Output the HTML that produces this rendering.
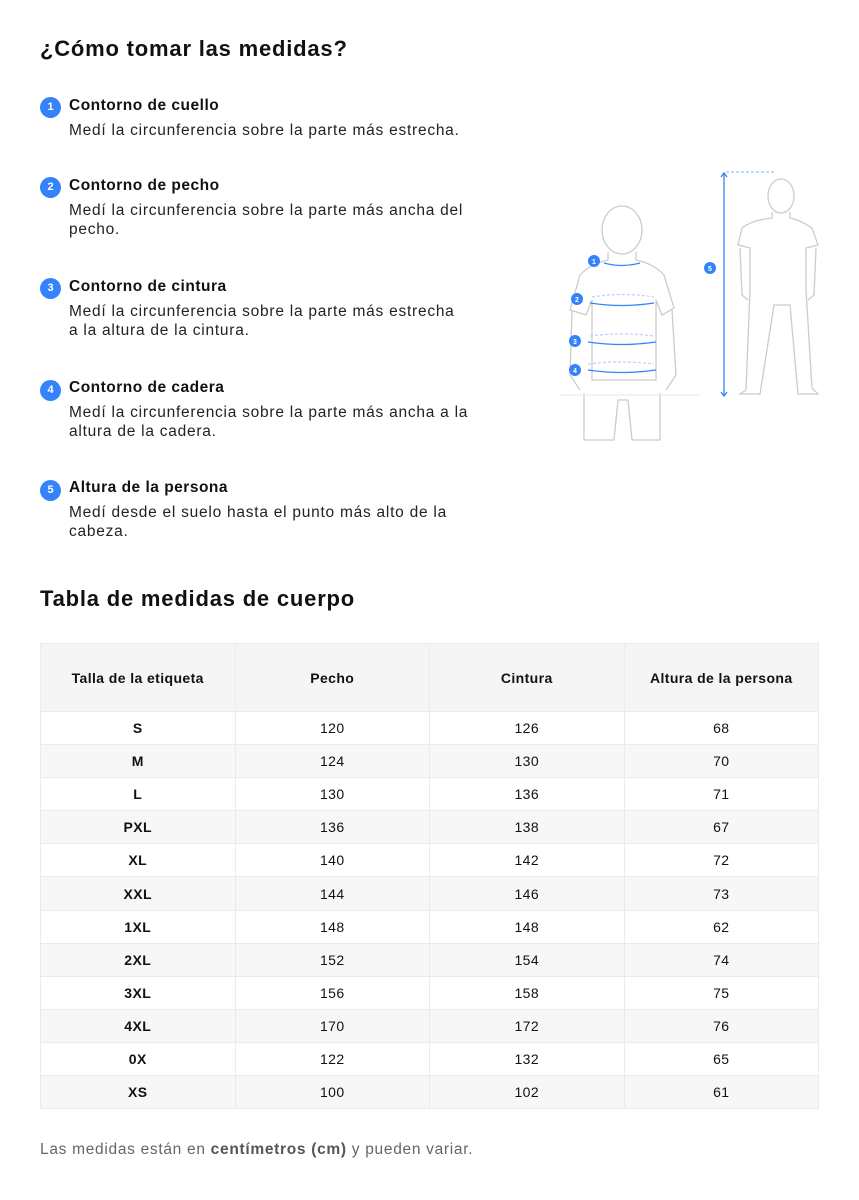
<!DOCTYPE html>
<html><head><meta charset="utf-8"><style>
*{margin:0;padding:0;box-sizing:border-box}
body{width:859px;height:1200px;background:#fff;font-family:"Liberation Sans",sans-serif;color:#111;position:relative;overflow:hidden}
.a{position:absolute}
h1{position:absolute;left:40px;font-size:22px;font-weight:bold;letter-spacing:0.8px}
.n{position:absolute;left:40px;width:21px;height:21px;border-radius:50%;background:#3483fa;color:#fff;font-size:11px;font-weight:bold;text-align:center;line-height:21px}
.t{position:absolute;left:69px;font-size:15.5px;font-weight:bold;letter-spacing:0.5px}
.d{position:absolute;left:69px;font-size:15.5px;line-height:19px;width:400px;color:#222;letter-spacing:0.75px}
table{position:absolute;left:40px;top:643px;width:779px;border-collapse:collapse;font-size:14px;letter-spacing:0.4px}
td,th{border:1px solid #ebebeb;text-align:center;width:25%}
th{height:68px;background:#f5f5f5;font-weight:bold;font-size:14px}
td{height:33.1px}
td:first-child{font-weight:bold}
tr:nth-child(odd) td{background:#f7f7f7}
.f{position:absolute;left:40px;top:1141px;font-size:15.5px;color:#666;letter-spacing:0.7px}
</style></head><body>
<h1 style="top:36px">¿Cómo tomar las medidas?</h1>
<div class="n" style="top:97px">1</div><div class="t" style="top:97px">Contorno de cuello</div>
<div class="d" style="top:121px">Medí la circunferencia sobre la parte más estrecha.</div>
<div class="n" style="top:177px">2</div><div class="t" style="top:177px">Contorno de pecho</div>
<div class="d" style="top:201px">Medí la circunferencia sobre la parte más ancha del pecho.</div>
<div class="n" style="top:278px">3</div><div class="t" style="top:278px">Contorno de cintura</div>
<div class="d" style="top:302px">Medí la circunferencia sobre la parte más estrecha<br>a la altura de la cintura.</div>
<div class="n" style="top:380px">4</div><div class="t" style="top:379px">Contorno de cadera</div>
<div class="d" style="top:403px">Medí la circunferencia sobre la parte más ancha a la<br>altura de la cadera.</div>
<div class="n" style="top:480px">5</div><div class="t" style="top:479px">Altura de la persona</div>
<div class="d" style="top:503px">Medí desde el suelo hasta el punto más alto de la<br>cabeza.</div>
<svg class="a" style="left:560px;top:160px" width="260" height="290" viewBox="0 0 260 290" fill="none" stroke="#ccc" stroke-width="1.3">
<ellipse cx="62" cy="70" rx="20" ry="24"/>
<path d="M48 92 L48 100 Q30 104 20 115 L10 150 L26 155 L32 140 L32 220 L96 220 L96 140 L102 155 L114 148 L104 115 Q94 104 76 100 L76 92"/>
<path d="M12 150 L10 215 L20 230 M112 150 L116 215 L106 230"/>
<path d="M24 233 L24 280 L54 280 L58 240 L68 240 L72 280 L100 280 L100 233"/>
<line x1="0" y1="235" x2="140" y2="235" stroke="#eee"/>
<ellipse cx="221" cy="36" rx="13" ry="17"/>
<path d="M212 52 L212 58 Q192 60 182 68 L178 85 L190 88 L190 130 L186 230 L180 234 L200 234 L214 145 L230 145 L238 234 L258 234 L252 228 L246 130 L246 88 L258 85 L252 68 Q240 60 230 58 L230 52"/>
<path d="M180 88 L182 135 L188 140 M256 88 L254 135 L248 140"/>
<g stroke="#3483fa"><line x1="164" y1="13" x2="164" y2="236"/><path d="M161 17 L164 13 L167 17 M161 232 L164 236 L167 232"/>
<line x1="166" y1="12" x2="215" y2="12" stroke-dasharray="3 2" stroke="#9cc2f9"/>
<path d="M44 103 Q62 108 80 103"/><path d="M30 143 Q62 148 94 143"/><path d="M28 182 Q62 187 96 182"/><path d="M28 210 Q62 215 96 210"/>
<path d="M32 137 Q62 132 94 137 M30 176 Q62 172 94 176 M28 204 Q62 200 94 204" stroke="#bcd5fb" stroke-dasharray="3 2"/></g>
<g fill="#3483fa" stroke="none"><circle cx="34" cy="101" r="6"/><circle cx="17" cy="139" r="6"/><circle cx="15" cy="181" r="6"/><circle cx="15" cy="210" r="6"/><circle cx="150" cy="108" r="6"/></g>
<g fill="#fff" stroke="none" font-size="7" font-family="Liberation Sans" text-anchor="middle" font-weight="bold"><text x="34" y="104">1</text><text x="17" y="142">2</text><text x="15" y="184">3</text><text x="15" y="213">4</text><text x="150" y="111">5</text></g>
</svg>
<h1 style="top:586px">Tabla de medidas de cuerpo</h1>
<table>
<tr><th>Talla de la etiqueta</th><th>Pecho</th><th>Cintura</th><th>Altura de la persona</th></tr>
<tr><td>S</td><td>120</td><td>126</td><td>68</td></tr>
<tr><td>M</td><td>124</td><td>130</td><td>70</td></tr>
<tr><td>L</td><td>130</td><td>136</td><td>71</td></tr>
<tr><td>PXL</td><td>136</td><td>138</td><td>67</td></tr>
<tr><td>XL</td><td>140</td><td>142</td><td>72</td></tr>
<tr><td>XXL</td><td>144</td><td>146</td><td>73</td></tr>
<tr><td>1XL</td><td>148</td><td>148</td><td>62</td></tr>
<tr><td>2XL</td><td>152</td><td>154</td><td>74</td></tr>
<tr><td>3XL</td><td>156</td><td>158</td><td>75</td></tr>
<tr><td>4XL</td><td>170</td><td>172</td><td>76</td></tr>
<tr><td>0X</td><td>122</td><td>132</td><td>65</td></tr>
<tr><td>XS</td><td>100</td><td>102</td><td>61</td></tr>
</table>
<div class="f">Las medidas están en <b style="color:#555">centímetros (cm)</b> y pueden variar.</div>
</body></html>
